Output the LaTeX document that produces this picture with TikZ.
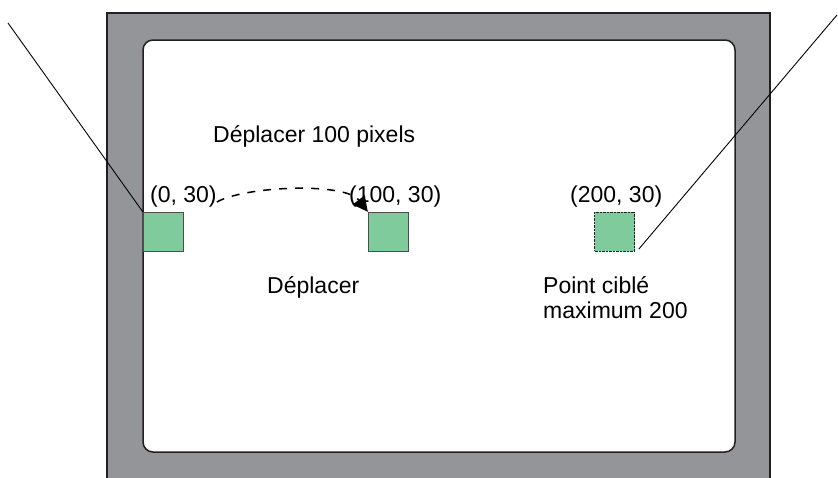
\documentclass[tikz,border=0pt]{standalone}
\usepackage{fontspec}
\setmainfont{Liberation Sans}
\usetikzlibrary{arrows.meta}
\definecolor{framec}{HTML}{939598}
\definecolor{edgec}{HTML}{231F20}
\definecolor{fillc}{HTML}{80CB9B}
\tikzstyle{screen} = [
  x=1pt,
  y=-1pt,
  font=\fontsize{23}{25}\selectfont,
]
\tikzstyle{target} = [
  draw=edgec!80,
  fill=fillc,
  minimum width=40pt,
  minimum height=39pt,
  inner sep=0pt,
]
\tikzstyle{txt} = [inner sep=0pt, anchor=base west]

\begin{document}
\begin{tikzpicture}[screen]
    \useasboundingbox (0,0) rectangle (838,477);
    \clip (0,0) rectangle (838,477);

    % Frame
    \draw[fill=framec, draw=edgec, line width=2.5pt] (107,13) rectangle (770,490);
    \draw[fill=white, draw=edgec, line width=1.5pt, rounded corners=10pt] (143,40) rectangle (735,452);

    % Squares
    \node[target] (p0) at (163,231.5) {};
    \node[target] (p1) at (388,231.5) {};
    \node[target, draw=edgec, densely dotted] (p2) at (614.5,231.5) {};

    % Labels
    \node[txt] (step) at (213,142) {Déplacer 100 pixels};
    \node[txt] (o0) at (150,202) {(0, 30)};
    \node[txt] (o1) at (349,202) {(100, 30)};
    \node[txt] (o2) at (570,202) {(200, 30)};
    \node[txt] (drag) at (267,293) {Déplacer};
    \node[txt] (goal) at (543,293) {Point ciblé};
    \node[txt] (goalmax) at (543,318) {maximum 200};

    % Move
    \draw[dash pattern=on 8pt off 8pt, line width=1.5pt, -{Triangle[length=15pt,width=15pt]}]
      (o0.base east) .. controls (245,186) and (345,182) .. (p1.north west);

    % Pointers
    \coordinate (tl) at (8,23);
    \coordinate (tr) at (837,15);
    \draw[line width=0.9pt] (tl) -- (p0.north west);
    \draw[line width=0.9pt] (tr) -- ([xshift=4pt,yshift=2pt]p2.south east);
\end{tikzpicture}
\end{document}
